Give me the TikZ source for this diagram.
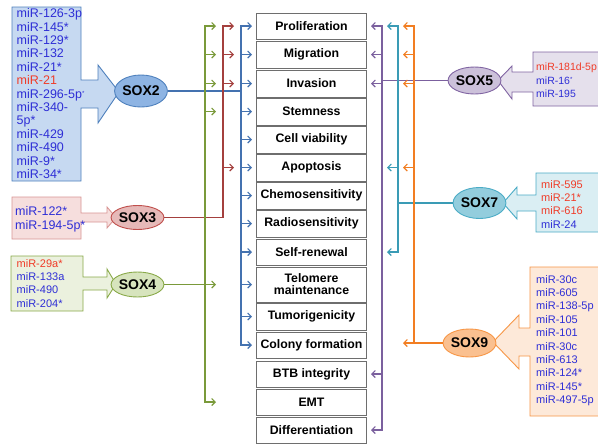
\documentclass[tikz,border=0pt]{standalone}
\usepackage{fontspec}
\setmainfont{Liberation Sans}
\usetikzlibrary{arrows.meta,shapes.geometric}
\definecolor{mirblue}{HTML}{2E2ED6}
\definecolor{mirred}{HTML}{F03C28}
\definecolor{boxgray}{HTML}{6E6E6E}
\definecolor{gline}{HTML}{7A9A3A}
\definecolor{rline}{HTML}{A4403E}
\definecolor{bline}{HTML}{4472B0}
\definecolor{pline}{HTML}{7B609E}
\definecolor{tline}{HTML}{3A9BB5}
\definecolor{oline}{HTML}{F27E22}
\definecolor{sIIfill}{HTML}{C6D9F1}\definecolor{sIIedge}{HTML}{4F81BD}\definecolor{sIIell}{HTML}{8EB4E3}
\definecolor{sIIIfill}{HTML}{F6DEDD}\definecolor{sIIIedge}{HTML}{D99694}\definecolor{sIIIell}{HTML}{E6B9B8}\definecolor{sIIIelledge}{HTML}{C0504D}
\definecolor{sIVfill}{HTML}{EBF1DE}\definecolor{sIVedge}{HTML}{8AAA4A}\definecolor{sIVell}{HTML}{D7E4BD}
\definecolor{sVfill}{HTML}{E5E0EC}\definecolor{sVedge}{HTML}{8064A2}\definecolor{sVell}{HTML}{CCC1DA}
\definecolor{sVIIfill}{HTML}{DAEEF3}\definecolor{sVIIedge}{HTML}{4BACC6}\definecolor{sVIIell}{HTML}{93CDDD}
\definecolor{sIXfill}{HTML}{FDE9D9}\definecolor{sIXedge}{HTML}{F79646}\definecolor{sIXell}{HTML}{FAC090}
\newcommand{\mystar}{\raisebox{3pt}{\fontsize{6}{6}\selectfont *}}
\begin{document}
\begin{tikzpicture}[x=1pt,y=-1pt,
  >={Straight Barb[length=3.5pt,width=7pt]},
  lbl/.style={draw=boxgray, line width=0.9pt, fill=white, minimum width=110pt, inner sep=0pt,
    font=\fontsize{12.3}{12}\selectfont\bfseries, align=center},
  sox/.style={ellipse, line width=0.9pt, inner sep=0pt, minimum width=50pt,
    font=\fontsize{14}{14}\selectfont\bfseries},
  mir/.style={anchor=north west, inner sep=0pt, align=left, font=\fontsize{11}{13.4}\selectfont},
  mirbig/.style={anchor=north west, inner sep=0pt, align=left, font=\fontsize{12.5}{13.4}\selectfont},
  callout/.style={line width=0.9pt},
  conn/.style={line width=1.1pt}
]
\fill[white] (0,0) rectangle (598,445);
\clip (0,0) rectangle (598,445);

% ---------- callout shapes ----------
\draw[callout, fill=sIIfill, draw=sIIedge] (12,7) -- (81,7) -- (81,80) -- (98,80) -- (98,65) -- (119,92)
  -- (98,123) -- (98,108) -- (81,108) -- (81,181) -- (12,181) -- cycle;
\draw[callout, fill=sIIIfill, draw=sIIIedge] (12,197) -- (81,197) -- (81,213) -- (107,213) -- (107,207) -- (116,217.5)
  -- (107,228) -- (107,222) -- (81,222) -- (81,239) -- (12,239) -- cycle;
\draw[callout, fill=sIVfill, draw=sIVedge] (11,256) -- (83,256) -- (83,277) -- (107,277) -- (107,269) -- (116,284)
  -- (107,298) -- (107,290) -- (83,290) -- (83,311) -- (11,311) -- cycle;
\draw[callout, fill=sVfill, draw=sVedge] (610,52) -- (533,52) -- (533,72) -- (512,72) -- (512,66) -- (498,80.5)
  -- (512,99) -- (512,92) -- (533,92) -- (533,106) -- (610,106) -- cycle;
\draw[callout, fill=sVIIfill, draw=sVIIedge] (610,173) -- (536,173) -- (536,195) -- (517,195) -- (517,187) -- (503,203)
  -- (517,219) -- (517,211) -- (536,211) -- (536,232) -- (610,232) -- cycle;
\draw[callout, fill=sIXfill, draw=sIXedge] (610,267) -- (530,267) -- (530,328) -- (519,328) -- (519,315) -- (493,342)
  -- (519,369) -- (519,356) -- (530,356) -- (530,416) -- (610,416) -- cycle;

% ---------- miRNA lists ----------
\node[mirbig] (mirII) at (16.5,8.5) {\color{mirblue}miR-126-3p\\ \color{mirblue}miR-145*\\ \color{mirblue}miR-129*\\
  \color{mirblue}miR-132\\ \color{mirblue}miR-21*\\ \color{mirred}miR-21\\ \color{mirblue}miR-296-5p\mystar\\
  \color{mirblue}miR-340-\\ \color{mirblue}5p*\\ \color{mirblue}miR-429\\ \color{mirblue}miR-490\\
  \color{mirblue}miR-9*\\ \color{mirblue}miR-34*};
\node[mirbig] (mirIII) at (15,206.5) {\color{mirblue}miR-122*\\ \color{mirblue}miR-194-5p*};
\node[mir] (mirIV) at (16.5,259) {\color{mirred}miR-29a*\\ \color{mirblue}miR-133a\\ \color{mirblue}miR-490\\ \color{mirblue}miR-204*};
\node[mir, font=\fontsize{10.5}{13.4}\selectfont] (mirV) at (536,63) {\color{mirred}miR-181d-5p\\ \color{mirblue}miR-16\mystar\\ \color{mirblue}miR-195};
\node[mir] (mirVII) at (541,180) {\color{mirred}miR-595\\ \color{mirred}miR-21*\\ \color{mirred}miR-616\\ \color{mirblue}miR-24};
\node[mir] (mirIX) at (536,275) {\color{mirblue}miR-30c\\ \color{mirblue}miR-605\\ \color{mirblue}miR-138-5p\\
  \color{mirblue}miR-105\\ \color{mirblue}miR-101\\ \color{mirblue}miR-30c\\ \color{mirblue}miR-613\\
  \color{mirblue}miR-124*\\ \color{mirblue}miR-145*\\ \color{mirblue}miR-497-5p};

% ---------- SOX ellipses ----------
\node[sox, fill=sIIell, draw=sIIedge, minimum height=32pt] (sox2) at (141,91) {SOX2};
\node[sox, fill=sIIIell, draw=sIIIelledge, minimum height=24pt] (sox3) at (137.5,217.5) {SOX3};
\node[sox, fill=sIVell, draw=sIVedge, minimum height=25pt] (sox4) at (137.5,284.5) {SOX4};
\node[sox, fill=sVell, draw=sVedge, minimum width=49pt, minimum height=27pt] (sox5) at (474.5,80.5) {SOX5};
\node[sox, fill=sVIIell, draw=sVIIedge, minimum width=49pt, minimum height=31pt] (sox7) at (479.5,203) {SOX7};
\node[sox, fill=sIXell, draw=sIXedge, minimum width=49pt, minimum height=28pt] (sox9) at (469.5,343) {SOX9};

% ---------- process boxes ----------
\node[lbl, minimum height=26pt] (prolif) at (311.5,26) {Proliferation};
\node[lbl, minimum height=27pt] (migr) at (311.5,54.5) {Migration};
\node[lbl, minimum height=27pt] (inv) at (311.5,83.5) {Invasion};
\node[lbl, minimum height=27pt] (stem) at (311.5,111.5) {Stemness};
\node[lbl, minimum height=27pt] (cellv) at (311.5,139.5) {Cell viability};
\node[lbl, minimum height=27pt] (apop) at (311.5,167.5) {Apoptosis};
\node[lbl, minimum height=27pt] (chemo) at (311.5,195.5) {Chemosensitivity};
\node[lbl, minimum height=27pt] (radio) at (311.5,223.5) {Radiosensitivity};
\node[lbl, minimum height=26pt] (self) at (311.5,252) {Self-renewal};
\node[lbl, minimum height=35pt] (telo) at (311.5,284.5) {Telomere\\maintenance};
\node[lbl, minimum height=27pt] (tumor) at (311.5,316.5) {Tumorigenicity};
\node[lbl, minimum height=26pt] (colony) at (311.5,345) {Colony formation};
\node[lbl, minimum height=26pt] (btb) at (311.5,374) {BTB integrity};
\node[lbl, minimum height=26pt] (emt) at (311.5,402) {EMT};
\node[lbl, minimum height=26pt] (diff) at (311.5,430) {Differentiation};

% ---------- bus coordinates ----------
\coordinate (gbus) at (205,0); \coordinate (gtip) at (216,0);
\coordinate (rbus) at (223,0); \coordinate (rtip) at (234,0);
\coordinate (bbus) at (241,0); \coordinate (btip) at (252,0);
\coordinate (pbus) at (382,0); \coordinate (ptip) at (371,0);
\coordinate (tbus) at (398,0); \coordinate (ttip) at (387,0);
\coordinate (obus) at (414,0); \coordinate (otip) at (403,0);

% ---------- SOX2 (blue) ----------
\draw[conn, bline, <->] (btip |- prolif) -- (bbus |- prolif) -- (bbus |- colony) -- (btip |- colony);
\foreach \n in {migr,inv,stem,cellv,apop,chemo,radio,self,telo,tumor}
  \draw[conn, bline, ->] (bbus |- \n) -- (btip |- \n);
\draw[conn, bline] (sox2.east) -- (bbus |- sox2.east);

% ---------- SOX3 (red) ----------
\draw[conn, rline, ->] (sox3.east) -- (rbus |- sox3.east) -- (rbus |- prolif) -- (rtip |- prolif);
\foreach \n in {migr,inv,apop}
  \draw[conn, rline, ->] (rbus |- \n) -- (rtip |- \n);

% ---------- SOX4 (green) ----------
\draw[conn, gline, <->] (gtip |- prolif) -- (gbus |- prolif) -- (gbus |- emt) -- (gtip |- emt);
\foreach \n in {migr,inv,stem}
  \draw[conn, gline, ->] (gbus |- \n) -- (gtip |- \n);
\draw[conn, gline, ->] (sox4.east) -- (gtip |- sox4.east);

% ---------- SOX5 (purple) ----------
\draw[conn, pline, <->] (ptip |- prolif) -- (pbus |- prolif) -- (pbus |- diff) -- (ptip |- diff);
\foreach \n in {migr,inv,btb}
  \draw[conn, pline, ->] (pbus |- \n) -- (ptip |- \n);
\draw[conn, pline] (sox5.west) -- (pbus |- sox5.west);

% ---------- SOX7 (teal) ----------
\draw[conn, tline, <->] (ttip |- prolif) -- (tbus |- prolif) -- (tbus |- self) -- (ttip |- self);
\draw[conn, tline, ->] (tbus |- apop) -- (ttip |- apop);
\draw[conn, tline] (sox7.west) -- (tbus |- sox7.west);

% ---------- SOX9 (orange) ----------
\draw[conn, oline, ->] (obus |- sox9.west) -- (obus |- prolif) -- (otip |- prolif);
\foreach \n in {migr,inv,apop}
  \draw[conn, oline, ->] (obus |- \n) -- (otip |- \n);
\draw[conn, oline, ->] (sox9.west) -- (otip |- sox9.west);
\end{tikzpicture}
\end{document}
